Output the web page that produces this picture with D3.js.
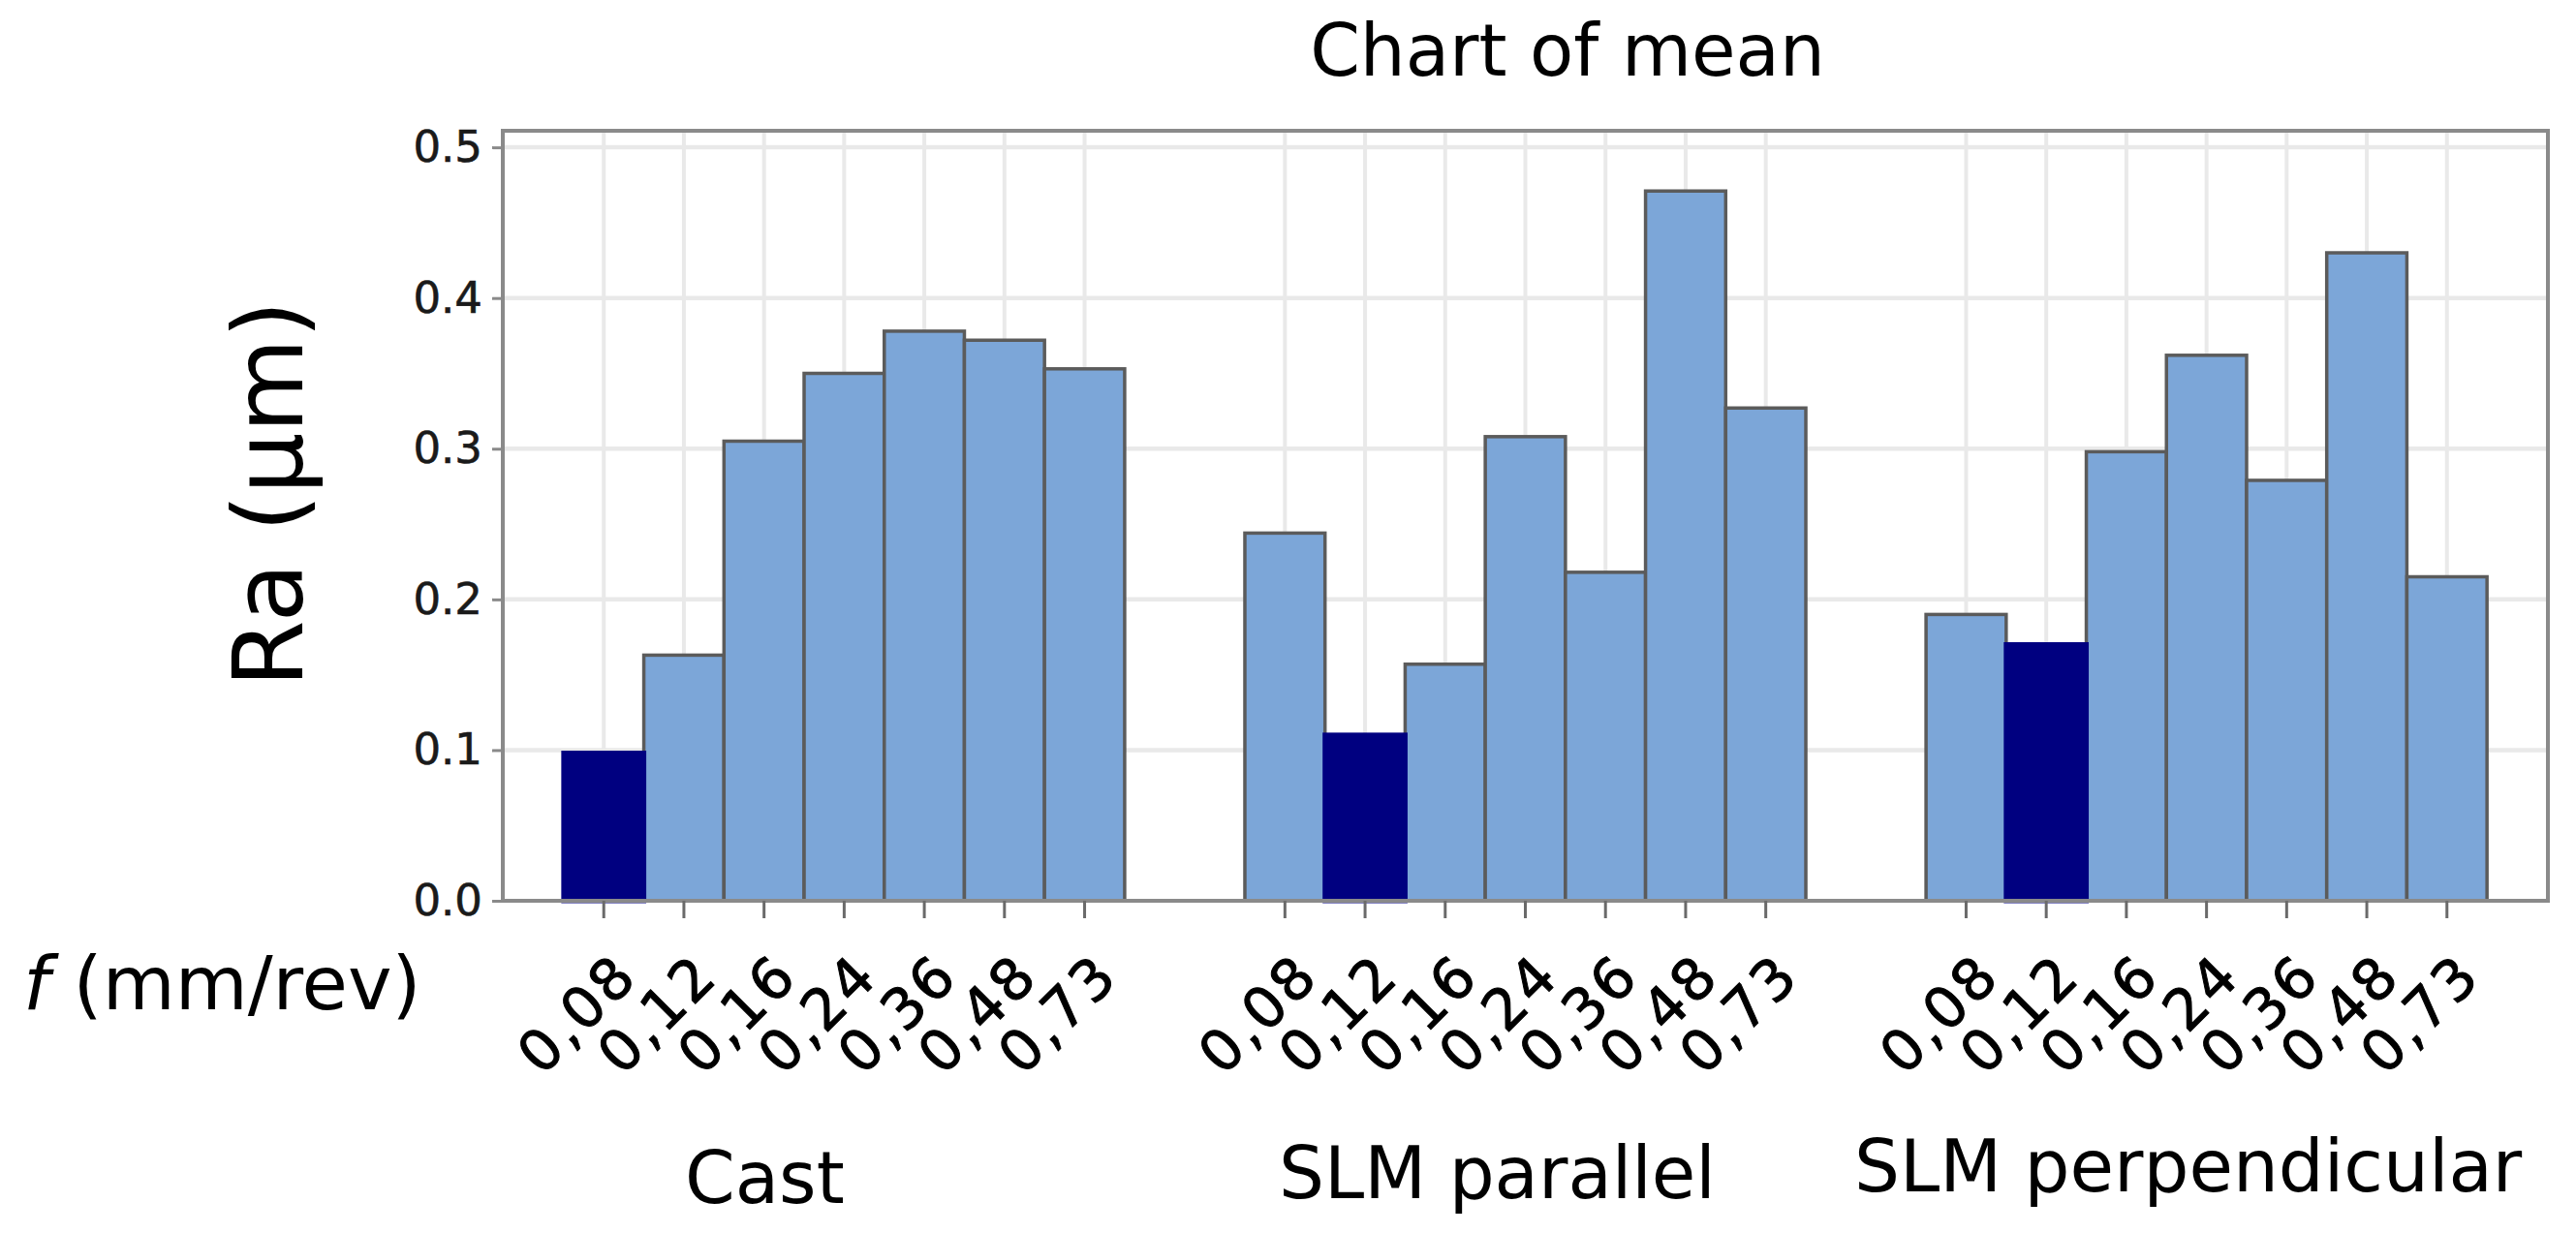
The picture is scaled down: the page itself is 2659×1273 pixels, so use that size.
<!DOCTYPE html>
<html lang="en">
<head>
    <meta charset="UTF-8">
    <script src="https://cdn.jsdelivr.net/npm/d3@7"></script>
    <style>
        * {
            margin: 0;
            padding: 0;
        }
        body {
            background: #ffffff;
        }
        text {
            font-family: "DejaVu Sans", Verdana, sans-serif;
        }
    </style>
    <title>Chart of mean</title>
</head>
<body>
    <script>
        const width = 2659;
        const height = 1273;

        // data
        const groups = ["Cast", "SLM parallel", "SLM perpendicular"];
        const feeds = ["0,08", "0,12", "0,16", "0,24", "0,36", "0,48", "0,73"];
        const castRa = [0.098, 0.163, 0.305, 0.350, 0.378, 0.372, 0.353];
        const slmParallelRa = [0.244, 0.110, 0.157, 0.308, 0.218, 0.471, 0.327];
        const slmPerpendicularRa = [0.190, 0.170, 0.298, 0.362, 0.279, 0.430, 0.215];
        const yTicks = [0, 0.1, 0.2, 0.3, 0.4, 0.5];

        const seriesByGroup = [castRa, slmParallelRa, slmPerpendicularRa];

        const plot = { left: 519, right: 2630, top: 135, bottom: 930 };
        const lightFill = "#7ca6d8";
        const darkFill = "#000080";
        const barStroke = "#5b5b5b";
        const frameColor = "#8a8a8a";
        const gridColor = "#e9e9e9";

        // group label placement (hand placed in the original figure)
        const groupLabelDx = [-82, -29, -19];
        const groupLabelY = [1242, 1237, 1230];

        let bars = [];
        groups.forEach((g, gi) => {
            let vals = seriesByGroup[gi];
            let minVal = d3.min(vals);
            feeds.forEach((f, i) => {
                bars.push({ group: g, feed: f, val: vals[i], low: vals[i] === minVal });
            });
        });

        let x0 = d3.scaleBand()
            .domain(groups)
            .range([plot.left, plot.right])
            .paddingInner(1.5 / 8.5)
            .paddingOuter(0.0894);
        let x1 = d3.scaleBand()
            .domain(feeds)
            .range([0, x0.bandwidth()])
            .padding(0);
        let y = d3.scaleLinear()
            .domain([0, 0.511])
            .range([plot.bottom, plot.top]);

        let svg = d3.select("body")
            .append("svg")
            .attr("width", width)
            .attr("height", height);

        // gridlines
        svg.append("g")
            .selectAll("line")
            .data(yTicks.filter(d => d > 0))
            .enter()
            .append("line")
            .attr("x1", plot.left)
            .attr("x2", plot.right)
            .attr("y1", d => y(d))
            .attr("y2", d => y(d))
            .attr("stroke", gridColor)
            .attr("stroke-width", 4.5);

        svg.append("g")
            .selectAll("line")
            .data(bars)
            .enter()
            .append("line")
            .attr("x1", d => x0(d.group) + x1(d.feed) + x1.bandwidth() / 2)
            .attr("x2", d => x0(d.group) + x1(d.feed) + x1.bandwidth() / 2)
            .attr("y1", plot.top)
            .attr("y2", plot.bottom)
            .attr("stroke", gridColor)
            .attr("stroke-width", 4);

        // bars, the lowest of each group drawn last in navy
        svg.append("g")
            .selectAll("rect")
            .data(bars.filter(d => !d.low).concat(bars.filter(d => d.low)))
            .enter()
            .append("rect")
            .attr("x", d => x0(d.group) + x1(d.feed))
            .attr("y", d => y(d.val))
            .attr("width", x1.bandwidth())
            .attr("height", d => y(0) - y(d.val))
            .attr("fill", d => d.low ? darkFill : lightFill)
            .attr("stroke", d => d.low ? darkFill : barStroke)
            .attr("stroke-width", d => d.low ? 5 : 3.5);

        // frame
        svg.append("rect")
            .attr("x", plot.left)
            .attr("y", plot.top)
            .attr("width", plot.right - plot.left)
            .attr("height", plot.bottom - plot.top)
            .attr("fill", "none")
            .attr("stroke", frameColor)
            .attr("stroke-width", 4);

        // y axis
        let yAxis = svg.append("g")
            .attr("transform", `translate(${plot.left},0)`)
            .call(d3.axisLeft(y).tickValues(yTicks).tickFormat(d3.format(".1f")).tickSize(11).tickPadding(10));
        yAxis.select(".domain").remove();
        yAxis.selectAll(".tick line").attr("stroke", frameColor).attr("stroke-width", 3);
        yAxis.selectAll(".tick text")
            .attr("font-size", 45)
            .attr("fill", "#1a1a1a")
            .attr("stroke", "#1a1a1a")
            .attr("stroke-width", 0.6)
            .attr("font-family", "DejaVu Sans");

        // x axis, one per group, labels rotated 45 degrees
        groups.forEach(g => {
            let ax = svg.append("g")
                .attr("transform", `translate(${x0(g)},${plot.bottom})`)
                .call(d3.axisBottom(x1).tickSize(18).tickFormat(""));
            ax.select(".domain").remove();
            ax.selectAll(".tick line").attr("stroke", "#6a6a6a").attr("stroke-width", 3);
            ax.selectAll(".tick")
                .append("text")
                .attr("text-anchor", "start")
                .attr("transform", `translate(-64,${1112 - plot.bottom}) rotate(-45)`)
                .attr("font-size", 59)
                .attr("letter-spacing", 3)
                .attr("fill", "#000000")
                .attr("stroke", "#000000")
                .attr("stroke-width", 1)
                .attr("font-family", "DejaVu Sans")
                .text(d => d);
        });

        // group labels
        svg.append("g")
            .selectAll("text")
            .data(groups)
            .enter()
            .append("text")
            .attr("x", (d, i) => x0(d) + x0.bandwidth() / 2 + groupLabelDx[i])
            .attr("y", (d, i) => groupLabelY[i])
            .attr("text-anchor", "middle")
            .attr("font-size", 74)
            .attr("fill", "#000000")
            .text(d => d);

        // titles
        svg.append("text")
            .attr("x", 1618)
            .attr("y", 78)
            .attr("text-anchor", "middle")
            .attr("font-size", 74)
            .attr("fill", "#000000")
            .text("Chart of mean");

        svg.append("text")
            .attr("transform", "translate(312,510) rotate(-90)")
            .attr("text-anchor", "middle")
            .attr("font-size", 100)
            .attr("fill", "#000000")
            .text("Ra (μm)");

        let fLabel = svg.append("text")
            .attr("x", 24)
            .attr("y", 1042)
            .attr("font-size", 77)
            .attr("fill", "#000000");
        fLabel.append("tspan").attr("font-style", "italic").text("f");
        fLabel.append("tspan").text(" (mm/rev)");
    </script>
</body>
</html>
